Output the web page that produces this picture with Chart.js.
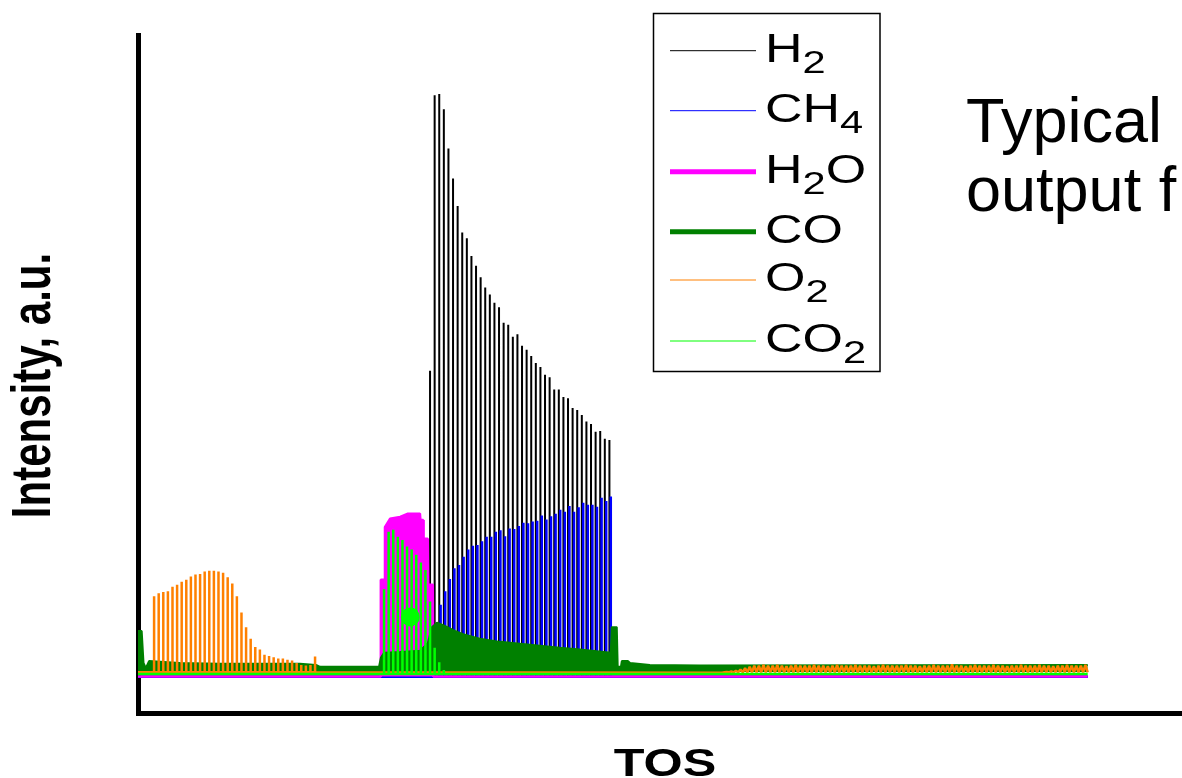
<!DOCTYPE html>
<html>
<head>
<meta charset="utf-8">
<script src="https://cdn.jsdelivr.net/npm/chart.js@4.4.0/dist/chart.umd.min.js"></script>
<style>
  html, body { margin: 0; padding: 0; background: #fff; }
  #wrap { width: 1182px; height: 778px; }
</style>
</head>
<body>
<div id="wrap"><canvas id="tosChart" width="1182" height="778"></canvas></div>
<script>
// TOS is counted in pulses, intensity in a.u. (0 = signal baseline)
var tosEnd = 206.5;
var tosMax = 227;
var intensityMin = -5.8;
var intensityMax = 100;

var gasLabels = ["H2", "CH4", "H2O", "CO", "O2", "CO2"];
var gasColors = ["#000000", "#0000ff", "#ff00ff", "#008000", "#ff8000", "#00ff00"];

// peak height of every pulse
var h2FirstPulse = 63.5;
var h2Peaks = [47.6, 90.6, 90.8, 88.4, 82.3, 77.6, 73.3, 69.2, 68.3, 65.5, 64.0, 62.2, 60.6, 59.5,
  58.2, 57.5, 55.1, 54.8, 52.9, 53.3, 51.5, 50.9, 49.9, 48.8, 48.2, 47.0, 46.6, 44.7, 44.7, 43.5,
  43.3, 41.8, 41.5, 40.7, 39.7, 39.3, 38.1, 38.2, 37.0, 36.8];

var ch4FirstPulse = 65.8;
var ch4Peaks = [11.1, 13.2, 15.1, 16.8, 17.3, 18.6, 19.7, 20.3, 20.4, 21.0, 21.7, 21.7, 22.5, 22.7,
  21.8, 23.0, 22.9, 23.4, 23.9, 23.8, 24.1, 24.2, 25.0, 24.4, 24.9, 25.3, 25.9, 25.6, 26.5, 25.6,
  26.3, 27.0, 26.7, 26.7, 26.4, 27.8, 27.3, 28.0];

var o2FirstPulse = 3.5;
var o2Peaks = [12.4, 12.9, 13.1, 13.2, 13.9, 14.2, 14.7, 15.0, 15.5, 15.8, 15.9, 16.3, 16.4, 16.4,
  16.3, 16.1, 15.4, 14.4, 12.4, 9.9, 7.6, 5.8, 4.5, 4.1, 3.3, 3.1, 2.9, 2.7, 2.7, 2.5, 2.4, 2.0,
  1.7, 1.6, 1.7, 3.0];
var o2TailFirstPulse = 127;
var o2TailPeaks = [0.5, 0.6, 0.7, 0.8, 1.0, 1.2, 1.4, 1.6, 1.6, 1.7, 1.6, 1.6, 1.7, 1.6, 1.5, 1.6,
  1.7, 1.6, 1.6, 1.6, 1.7, 1.6, 1.6, 1.5, 1.6, 1.7, 1.6, 1.6, 1.6, 1.7, 1.6, 1.6, 1.6, 1.5, 1.6,
  1.7, 1.6, 1.6, 1.6, 1.6, 1.7, 1.6, 1.6, 1.5, 1.6, 1.6, 1.7, 1.6, 1.6, 1.6, 1.8, 1.6, 1.6, 1.5,
  1.6, 1.7, 1.6, 1.6, 1.6, 1.7, 1.6, 1.6, 1.5, 1.6, 1.6, 1.7, 1.6, 1.6, 1.6, 1.7, 1.6, 1.6, 1.5,
  1.6, 1.6, 1.7, 1.6, 1.6, 1.6, 1.7];
var o2TailLow = 0.55;

var co2FirstPulse = 53.5;
var co2Peaks = [13.5, 22.5, 22.8, 21.7, 21.2, 20.2, 19.7, 18.9, 17.7, 16.5, 11.6, 4.4, 2.1, 0.9];
var co2Spot = [{ x: 59.2, y: 9.2 }];

var coTos = [0, 0.8, 1.2, 1.7, 2.4, 4.8, 9.1, 17.8, 26.5, 35.2, 38.7, 39.6, 52.4, 52.8, 53.5, 57,
  61.3, 63, 63.9, 65, 66.7, 68.9, 71.1, 74.3, 78.7, 83, 87.4, 91.7, 96.1, 102.8, 103, 104.1, 104.3,
  105, 105.2, 106.5, 107, 111.3, 122.2, 206.5];
var coValues = [7.0, 7.0, 2.0, 1.2, 2.3, 2.2, 2.0, 1.9, 1.9, 1.9, 1.7, 1.4, 1.4, 2.8, 3.6, 3.7, 3.9,
  5.1, 7.6, 8.3, 7.8, 7.0, 6.4, 5.8, 5.3, 5.0, 4.7, 4.4, 4.1, 3.6, 7.6, 7.6, 1.4, 1.4, 2.3, 2.3,
  2.0, 1.7, 1.6, 1.7];

var h2oTos = [0, 52.7, 52.8, 53.6, 53.7, 54.8, 57, 58.7, 61.3, 61.4, 62, 62.1, 63, 63.1, 64.1, 64.2, 206.5];
var h2oValues = [-0.1, -0.1, 15.0, 15.0, 23.2, 24.5, 24.8, 25.3, 25.3, 24.3, 24.3, 21.4, 21.4, 14.2,
  14.2, -0.1, -0.1];

var baseH2 = -0.1, baseCH4 = -0.15, baseCO = 0.6, baseCO2 = 0.3, baseO2 = 0.55;

function spikes(first, peaks, base, pts) {
  pts = pts || [{ x: 0, y: base }];
  peaks.forEach(function (p, i) {
    var t = first + i;
    pts.push({ x: t, y: base }, { x: t, y: p }, { x: t, y: base });
  });
  return pts;
}

function pairs(xs, ys) {
  return xs.map(function (x, i) { return { x: x, y: ys[i] }; });
}

function o2Points() {
  var pts = spikes(o2FirstPulse, o2Peaks, baseO2);
  o2TailPeaks.forEach(function (p, i) {
    var t = o2TailFirstPulse + i;
    pts.push({ x: t, y: p }, { x: t + 0.5, y: o2TailLow });
  });
  pts.push({ x: tosEnd, y: o2TailLow });
  return pts;
}

function withEnd(pts, base) {
  pts.push({ x: tosEnd, y: base });
  return pts;
}

var legendRows = [50.7, 110.7, 171.7, 231.7, 280, 341];
var legendWidths = [1, 1, 5, 5, 1, 1];

// formula with subscript digits, stretched sideways like the original
function drawFormula(ctx, label, x, y) {
  ctx.save();
  ctx.translate(x, y);
  ctx.scale(1.3, 1);
  var cx = 0;
  label.match(/\d+|\D+/g).forEach(function (part) {
    var sub = /^\d+$/.test(part);
    ctx.font = (sub ? "32px" : "40px") + ' "Liberation Sans", Arial, sans-serif';
    ctx.fillText(part, cx, sub ? 11 : 0);
    cx += ctx.measureText(part).width;
  });
  ctx.restore();
}

var textPlugin = {
  id: "figureText",
  afterDraw: function (chart) {
    var ctx = chart.ctx;
    ctx.save();
    ctx.fillStyle = "#000";
    ctx.textBaseline = "alphabetic";

    // axis titles (stretched like the original figure)
    ctx.save();
    ctx.translate(50, 385.5);
    ctx.rotate(-Math.PI / 2);
    ctx.scale(1, 1.34);
    ctx.textAlign = "center";
    ctx.font = 'bold 42px "Liberation Sans", Arial, sans-serif';
    ctx.fillText("Intensity, a.u.", 0, 0);
    ctx.restore();

    ctx.save();
    ctx.translate(665, 776);
    ctx.scale(1.29, 1);
    ctx.textAlign = "center";
    ctx.font = 'bold 39px "Liberation Sans", Arial, sans-serif';
    ctx.fillText("TOS", 0, 0);
    ctx.restore();

    ctx.textAlign = "left";
    ctx.font = '63px "Liberation Sans", Arial, sans-serif';
    ctx.fillText("Typical", 966, 142);
    ctx.fillText("output f", 966, 211);

    // legend box
    ctx.strokeStyle = "#000";
    ctx.lineWidth = 1.5;
    ctx.strokeRect(653.5, 13.5, 226.5, 358);
    gasLabels.forEach(function (label, i) {
      var y = legendRows[i];
      ctx.beginPath();
      ctx.strokeStyle = gasColors[i];
      ctx.lineWidth = legendWidths[i];
      ctx.moveTo(670, y);
      ctx.lineTo(756, y);
      ctx.stroke();
      ctx.fillStyle = "#000";
      drawFormula(ctx, label, 765, y + 11);
    });
    ctx.restore();
  }
};

var ctx = document.getElementById("tosChart").getContext("2d");
var tosChart = new Chart(ctx, {
  type: "line",
  data: {
    datasets: [
      { label: "CO2 spot", data: co2Spot, showLine: false, pointRadius: 9.5,
        pointBackgroundColor: gasColors[5], pointBorderWidth: 0, order: 0 },
      { label: gasLabels[5], data: withEnd(spikes(co2FirstPulse, co2Peaks, baseCO2), baseCO2),
        borderColor: gasColors[5], borderWidth: 2.5, order: 1 },
      { label: gasLabels[4], data: o2Points(), borderColor: gasColors[4], borderWidth: 2.5, order: 2 },
      { label: gasLabels[3], data: pairs(coTos, coValues), borderColor: gasColors[3],
        backgroundColor: gasColors[3], borderWidth: 2, fill: { value: baseCO }, order: 3 },
      { label: gasLabels[2], data: pairs(h2oTos, h2oValues), borderColor: gasColors[2],
        backgroundColor: gasColors[2], borderWidth: 2.5, fill: { value: -0.1 }, order: 4 },
      { label: gasLabels[1], data: withEnd(spikes(ch4FirstPulse, ch4Peaks, baseCH4), baseCH4),
        borderColor: gasColors[1], borderWidth: 2.5, order: 5 },
      { label: gasLabels[0], data: withEnd(spikes(h2FirstPulse, h2Peaks, baseH2), baseH2),
        borderColor: gasColors[0], borderWidth: 2, order: 6 }
    ]
  },
  options: {
    responsive: false,
    animation: false,
    layout: { autoPadding: false, padding: { left: 138, top: 35, right: 0, bottom: 65 } },
    elements: {
      point: { radius: 0 },
      line: { tension: 0, borderJoinStyle: "bevel", fill: false }
    },
    plugins: { legend: { display: false }, tooltip: { enabled: false } },
    scales: {
      x: {
        type: "linear", min: 0, max: tosMax,
        ticks: { display: false },
        grid: { display: false, drawTicks: false, tickLength: 0 },
        border: { display: true, color: "#000", width: 5 }
      },
      y: {
        type: "linear", min: intensityMin, max: intensityMax,
        ticks: { display: false },
        grid: { display: false, drawTicks: false, tickLength: 0 },
        border: { display: true, color: "#000", width: 5 }
      }
    }
  },
  plugins: [textPlugin]
});
</script>
</body>
</html>
